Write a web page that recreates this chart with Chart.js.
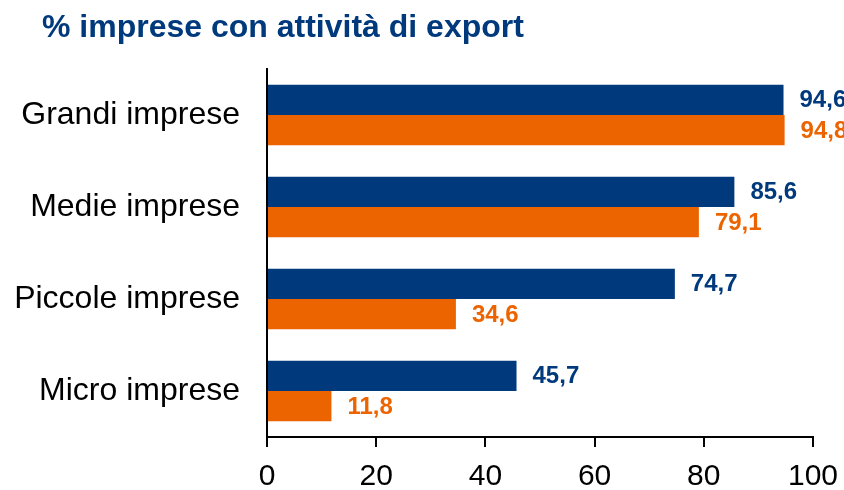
<!DOCTYPE html>
<html>
<head>
<meta charset="utf-8">
<script src="https://cdn.jsdelivr.net/npm/chart.js@4.4.0/dist/chart.umd.min.js"></script>
<style>
  body { margin: 0; background: #fff; }
  .wrap { position: relative; width: 844px; height: 490px; }
  .title {
    position: absolute; left: 42px; top: 10px;
    font: bold 32px "Liberation Sans", Arial, sans-serif;
    line-height: 32px; color: #003a7c; white-space: nowrap;
  }
  canvas { position: absolute; left: 0; top: 0; }
</style>
</head>
<body>
<div class="wrap">
  <canvas id="exportChart" width="844" height="490"></canvas>
  <div class="title">% imprese con attività di export</div>
</div>
<script>
// dati
const categorie = ['Grandi imprese', 'Medie imprese', 'Piccole imprese', 'Micro imprese'];
const serie1 = [94.6, 85.6, 74.7, 45.7];
const serie2 = [94.8, 79.1, 34.6, 11.8];
const tickX = [0, 20, 40, 60, 80, 100];

const BLU = '#003a7c';
const ARANCIO = '#ec6400';

// etichette valore a destra delle barre
const valueLabels = {
    id: 'valueLabels',
    afterDatasetsDraw(chart) {
        const ctx = chart.ctx;
        ctx.save();
        ctx.font = 'bold 24px "Liberation Sans", Arial, sans-serif';
        ctx.textAlign = 'left';
        ctx.textBaseline = 'middle';
        chart.data.datasets.forEach(function(ds, i) {
            const meta = chart.getDatasetMeta(i);
            ctx.fillStyle = ds.backgroundColor;
            meta.data.forEach(function(bar, j) {
                const txt = ds.data[j].toFixed(1).replace('.', ',');
                ctx.fillText(txt, bar.x + 16, bar.y + 1);
            });
        });
        ctx.restore();
    }
};

const ctx = document.getElementById('exportChart').getContext('2d');
const exportChart = new Chart(ctx, {
    type: 'bar',
    data: {
        labels: categorie,
        datasets: [{
            label: 'Serie 1',
            data: serie1,
            backgroundColor: BLU,
            barPercentage: 1,
            categoryPercentage: 0.66
        }, {
            label: 'Serie 2',
            data: serie2,
            backgroundColor: ARANCIO,
            barPercentage: 1,
            categoryPercentage: 0.66
        }]
    },
    options: {
        indexAxis: 'y',
        responsive: false,
        animation: false,
        devicePixelRatio: 1,
        layout: {
            padding: { left: 0, right: 31, top: 69, bottom: 0 }
        },
        plugins: {
            legend: { display: false },
            tooltip: { enabled: false }
        },
        scales: {
            x: {
                min: 0,
                max: 100,
                afterBuildTicks: function(scale) {
                    scale.ticks = tickX.map(v => ({ value: v }));
                },
                afterFit: function(scale) {
                    scale.height = 53;
                    scale.paddingLeft = 0;
                    scale.paddingRight = 0;
                },
                border: { display: true, color: '#000', width: 2 },
                grid: {
                    display: true,
                    drawOnChartArea: false,
                    drawTicks: true,
                    tickLength: 10,
                    color: '#000',
                    lineWidth: 2
                },
                ticks: {
                    color: '#000',
                    padding: 12,
                    maxRotation: 0,
                    font: { family: '"Liberation Sans", Arial, sans-serif', size: 30 }
                }
            },
            y: {
                afterFit: function(scale) {
                    scale.width = 267;
                },
                border: { display: true, color: '#000', width: 2 },
                grid: { display: false, drawTicks: false },
                ticks: {
                    color: '#000',
                    padding: 27,
                    font: { family: '"Liberation Sans", Arial, sans-serif', size: 32 }
                }
            }
        }
    },
    plugins: [valueLabels]
});
</script>
</body>
</html>
